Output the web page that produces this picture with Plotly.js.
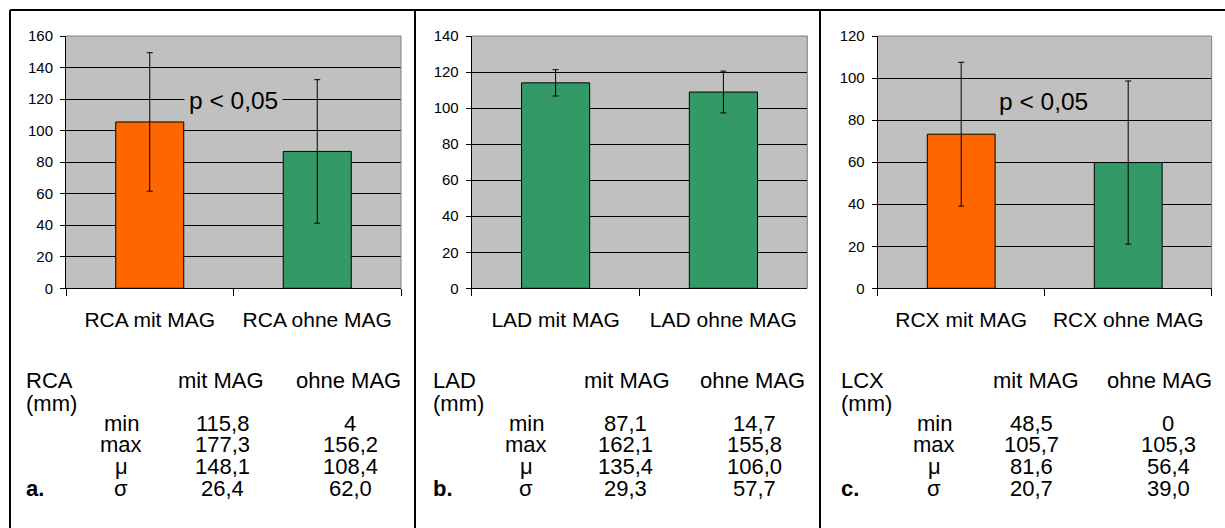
<!DOCTYPE html>
<html>
<head>
<meta charset="utf-8">
<script src="https://cdn.plot.ly/plotly-3.0.1.min.js"></script>
<style>html,body{margin:0;padding:0;background:#fff;}#chart{width:1225px;height:528px;}</style>
</head>
<body>
<div id="chart"></div>
<script>
// ---- data ----
const catsRCA = ['RCA mit MAG', 'RCA ohne MAG'];
const valsRCA = [105.5, 86.8];
const errRCA = [43.9, 45.5];
const colRCA = ['#FF6600', '#339966'];

const catsLAD = ['LAD mit MAG', 'LAD ohne MAG'];
const valsLAD = [114.0, 108.9];
const errLAD = [7.3, 11.6];
const colLAD = ['#339966', '#339966'];

const catsRCX = ['RCX mit MAG', 'RCX ohne MAG'];
const valsRCX = [73.3, 59.8];
const errRCX = [34.2, 38.8];
const colRCX = ['#FF6600', '#339966'];

const yMax = [160, 140, 120];
const pText = 'p < 0,05';

const tableHeads = ['RCA', 'LAD', 'LCX'];
const tableTags = ['a.', 'b.', 'c.'];
const colHeads = ['mit MAG', 'ohne MAG'];
const rowLabels = ['min', 'max', 'μ', 'σ'];
const rcaMit = ['115,8', '177,3', '148,1', '26,4'];
const rcaOhne = ['4', '156,2', '108,4', '62,0'];
const ladMit = ['87,1', '162,1', '135,4', '29,3'];
const ladOhne = ['14,7', '155,8', '106,0', '57,7'];
const lcxMit = ['48,5', '105,7', '81,6', '20,7'];
const lcxOhne = ['0', '105,3', '56,4', '39,0'];

// ---- layout helpers ----
const W = 1225, H = 528;
const FONT = 'Liberation Sans, Arial, sans-serif';
const px = x => x / W;
const py = y => 1 - y / H;

const plotX = [[66, 401], [471.7, 807.3], [877.7, 1211.7]];
const plotTop = 36, plotBot = 288.3;

function barTrace(cats, vals, errs, cols, i) {
  const s = i === 0 ? '' : String(i + 1);
  return {
    type: 'bar', x: cats, y: vals, xaxis: 'x' + s, yaxis: 'y' + s,
    marker: {color: cols, line: {color: '#000', width: 1}},
    error_y: {type: 'data', array: errs, visible: true, color: '#000', thickness: 1, width: 3},
    hoverinfo: 'none', showlegend: false
  };
}

const data = [
  barTrace(catsRCA, valsRCA, errRCA, colRCA, 0),
  barTrace(catsLAD, valsLAD, errLAD, colLAD, 1),
  barTrace(catsRCX, valsRCX, errRCX, colRCX, 2)
];

const layout = {
  width: W, height: H,
  margin: {l: 0, r: 0, t: 0, b: 0},
  paper_bgcolor: '#ffffff',
  plot_bgcolor: '#C0C0C0',
  bargap: 0.594,
  font: {family: FONT, color: '#000'},
  showlegend: false,
  shapes: [],
  annotations: []
};

for (let i = 0; i < 3; i++) {
  const s = i === 0 ? '' : String(i + 1);
  layout['xaxis' + s] = {
    domain: [px(plotX[i][0]), px(plotX[i][1])],
    anchor: 'y' + s, type: 'category', range: [-0.5, 1.5],
    showline: true, linecolor: '#000', linewidth: 1,
    ticks: 'outside', tickson: 'boundaries', ticklen: 7, tickcolor: '#000', tickwidth: 1,
    ticklabelstandoff: 12,
    showgrid: false, zeroline: false,
    tickfont: {family: FONT, size: 21, color: '#000'},
    fixedrange: true
  };
  layout['yaxis' + s] = {
    domain: [py(plotBot), py(plotTop)],
    anchor: 'x' + s, range: [0, yMax[i]], dtick: 20, tick0: 0,
    showline: true, linecolor: '#000', linewidth: 1,
    ticks: 'outside', ticklen: 5, tickcolor: '#000', tickwidth: 1,
    ticklabelstandoff: 4,
    showgrid: true, gridcolor: '#000', gridwidth: 1, zeroline: false,
    tickfont: {family: FONT, size: 15, color: '#000'},
    fixedrange: true
  };
  // gray plot-area border (top and right)
  layout.shapes.push({type: 'line', xref: 'paper', yref: 'paper',
    x0: px(plotX[i][0]), x1: px(plotX[i][1]), y0: py(plotTop), y1: py(plotTop),
    line: {color: '#808080', width: 1}, layer: 'above'});
  layout.shapes.push({type: 'line', xref: 'paper', yref: 'paper',
    x0: px(plotX[i][1]), x1: px(plotX[i][1]), y0: py(plotTop), y1: py(plotBot),
    line: {color: '#808080', width: 1}, layer: 'above'});
}

// frame lines
const frame = [
  [10, 10, W, 10], [10, 10, 10, H], [415, 10, 415, H], [820, 10, 820, H]
];
frame.forEach(f => layout.shapes.push({type: 'line', xref: 'paper', yref: 'paper',
  x0: px(f[0]), y0: py(f[1]), x1: px(f[2]), y1: py(f[3]), line: {color: '#000', width: 2}}));

// p-value annotations
[[233, 100.5], [1043, 101]].forEach(p => layout.annotations.push({
  xref: 'paper', yref: 'paper', x: px(p[0]), y: py(p[1]), xanchor: 'center', yanchor: 'middle',
  text: pText, showarrow: false, bgcolor: '#C0C0C0', borderpad: 4,
  font: {family: FONT, size: 24.5, color: '#000'}
}));

// tables
const FS = 22;
const mid = b => b - 0.35 * FS;
const headBase = 388, mmBase = 411, rowBase = [431, 452, 474, 496];
const tables = [
  {left: 25, rowX: 121, mitH: 220.5, mitX: 222, ohneH: 348, ohneX: 350, mit: rcaMit, ohne: rcaOhne},
  {left: 432, rowX: 526, mitH: 627, mitX: 625, ohneH: 752, ohneX: 755, mit: ladMit, ohne: ladOhne},
  {left: 840, rowX: 934, mitH: 1036, mitX: 1031.5, ohneH: 1159, ohneX: 1168, mit: lcxMit, ohne: lcxOhne}
];
function txt(x, yb, t, anchor, bold) {
  layout.annotations.push({xref: 'paper', yref: 'paper', x: px(x), y: py(mid(yb)),
    xanchor: anchor, yanchor: 'middle', text: bold ? '<b>' + t + '</b>' : t, showarrow: false,
    borderpad: 0, font: {family: FONT, size: FS, color: '#000'}});
}
tables.forEach((tb, i) => {
  txt(tb.left, headBase, tableHeads[i], 'left');
  txt(tb.left, mmBase, '(mm)', 'left');
  txt(tb.left, rowBase[3], tableTags[i], 'left', true);
  txt(tb.mitH, headBase, colHeads[0], 'center');
  txt(tb.ohneH, headBase, colHeads[1], 'center');
  rowLabels.forEach((r, j) => {
    txt(tb.rowX, rowBase[j], r, 'center');
    txt(tb.mitX, rowBase[j], tb.mit[j], 'center');
    txt(tb.ohneX, rowBase[j], tb.ohne[j], 'center');
  });
});

Plotly.newPlot('chart', data, layout, {displayModeBar: false, staticPlot: true});
</script>
</body>
</html>
